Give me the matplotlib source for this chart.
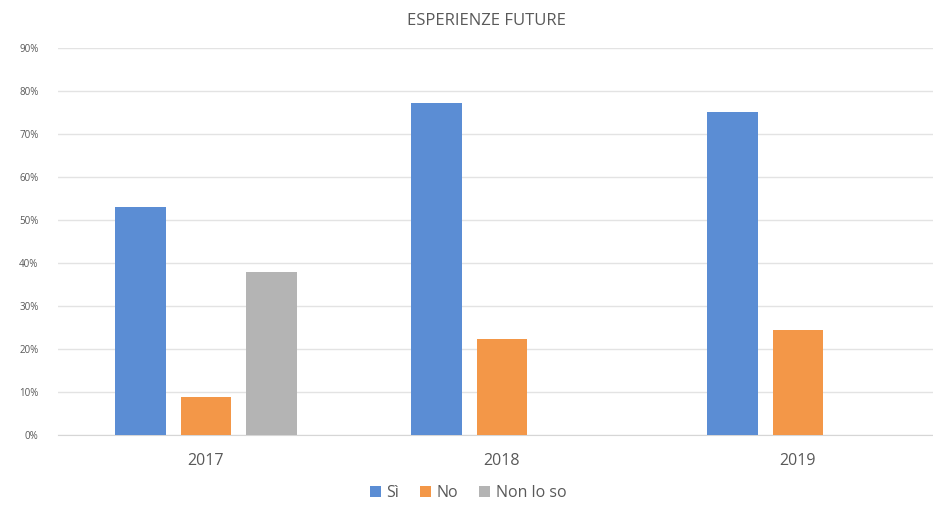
import matplotlib

matplotlib.use("Agg")
import matplotlib.pyplot as plt
import numpy as np
from matplotlib.ticker import FuncFormatter

# values (fractions)
YEARS = ["2017", "2018", "2019"]
SI = [0.53, 0.772, 0.751]
NO = [0.089, 0.223, 0.244]
NON_LO_SO = [0.379, np.nan, np.nan]
SERIES = [("Sì", SI, "#5B8DD4"), ("No", NO, "#F39748"), ("Non lo so", NON_LO_SO, "#B4B4B4")]

plt.rcParams["font.family"] = ["Open Sans", "DejaVu Sans"]
TXT = "#595959"

fig = plt.figure(figsize=(9.33, 5.05), dpi=100)
ax = fig.add_axes([58 / 933, 70 / 505, 875 / 933, 387 / 505])

x = np.arange(len(YEARS))
width = 0.172
step = 0.22
for i, (name, vals, col) in enumerate(SERIES):
    ax.bar(x + (i - 1) * step, vals, width, color=col, label=name, zorder=3)

ax.set_ylim(0, 0.9)
ax.set_xlim(-0.5, -0.5 + 875 / 296)
ax.set_yticks(np.arange(0, 0.91, 0.1))
ax.yaxis.set_major_formatter(FuncFormatter(lambda v, _: f"{v * 100:.0f}%"))
ax.grid(axis="y", color="#E3E3E3", lw=1.0, zorder=0)
ax.set_xticks(x)
ax.set_xticklabels(YEARS)
ax.tick_params(axis="x", length=0, pad=13, labelsize=11.5, labelcolor=TXT)
ax.tick_params(axis="y", length=0, pad=14, labelsize=7, labelcolor=TXT)
for side in ("top", "right", "left"):
    ax.spines[side].set_visible(False)
ax.spines["bottom"].set_color("#D6D6D6")

fig.text(486 / 933, 1 - 21 / 505, "ESPERIENZE FUTURE", ha="center", va="center",
         fontsize=12, color=TXT)

leg = fig.legend(loc="center", bbox_to_anchor=(468 / 933, 1 - 493 / 505), ncol=3,
                 frameon=False, fontsize=11.5, handlelength=0.7, handleheight=0.7,
                 handletextpad=0.35, columnspacing=1.3)
for t in leg.get_texts():
    t.set_color(TXT)

fig.savefig("out.png", dpi=100)
